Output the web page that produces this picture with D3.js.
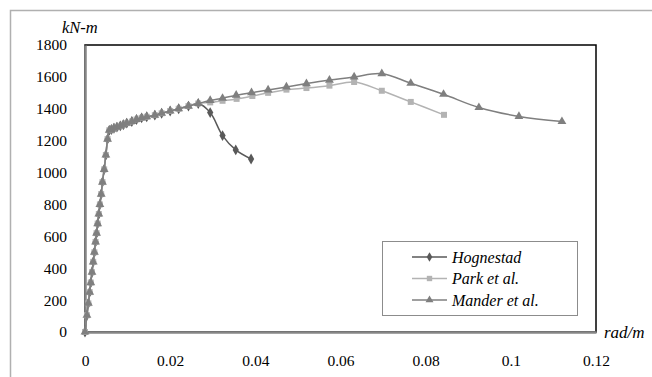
<!DOCTYPE html>
<html>
<head>
<meta charset="utf-8">
<script src="https://cdn.jsdelivr.net/npm/d3@7"></script>
<style>
  html, body { margin: 0; padding: 0; background: #fff; }
  svg text { font-family: "Liberation Serif", "Times New Roman", Times, "DejaVu Serif", serif !important; }
</style>
</head>
<body>
<svg id="chart" width="652" height="377"></svg>
<script>
// Moment–curvature curves (curvature in rad/m, moment in kN-m)
const risingX = [0, 0.00046, 0.00079, 0.0011, 0.00136, 0.00164, 0.00193, 0.0022, 0.00248, 0.00272, 0.00298, 0.00325, 0.0035, 0.0038, 0.0041, 0.0045, 0.0049, 0.0053, 0.0057,
  0.0062, 0.0068, 0.0075, 0.0083, 0.009, 0.0098, 0.011, 0.0121, 0.0133, 0.0145, 0.0164, 0.018, 0.02, 0.022, 0.0243, 0.0266];
const risingY = [0, 105, 180, 250, 310, 375, 440, 500, 565, 620, 680, 740, 800, 865, 940, 1020, 1110, 1210, 1265,
  1270, 1278, 1285, 1293, 1300, 1310, 1320, 1333, 1343, 1350, 1360, 1372, 1386, 1400, 1417, 1433];

const hognestadX = [0.0294, 0.0323, 0.0354, 0.039];
const hognestadY = [1376, 1232, 1142, 1085];

const parkX = [0.0294, 0.0323, 0.0356, 0.0393, 0.043, 0.0473, 0.052, 0.0574, 0.0632, 0.0697, 0.0765, 0.0843];
const parkY = [1440, 1450, 1462, 1480, 1500, 1520, 1530, 1545, 1568, 1513, 1443, 1362];

const manderX = [0.0294, 0.0323, 0.0355, 0.0391, 0.043, 0.0473, 0.052, 0.0574, 0.0632, 0.0697, 0.0765, 0.0842, 0.0925, 0.1019, 0.112];
const manderY = [1452, 1466, 1485, 1501, 1518, 1537, 1558, 1580, 1600, 1620, 1560, 1491, 1408, 1352, 1320];

const seriesNames = ["Hognestad", "Park et al.", "Mander et al."];
const xTicks = [0, 0.02, 0.04, 0.06, 0.08, 0.1, 0.12];
const yTicks = [0, 200, 400, 600, 800, 1000, 1200, 1400, 1600, 1800];

function pts(xs, ys) { return xs.map((x, i) => ({ x, y: ys[i] })); }

const series = [
  { name: seriesNames[0], data: pts(risingX.concat(hognestadX), risingY.concat(hognestadY)), color: "#595959", marker: d3.symbolDiamond, size: 34 },
  { name: seriesNames[1], data: pts(risingX.concat(parkX), risingY.concat(parkY)), color: "#b3b3b3", marker: d3.symbolSquare, size: 36 },
  { name: seriesNames[2], data: pts(risingX.concat(manderX), risingY.concat(manderY)), color: "#7f7f7f", marker: d3.symbolTriangle, size: 34 }
];

const svg = d3.select("#chart");
const plotL = 85, plotR = 596, plotT = 45, plotB = 332;

const x = d3.scaleLinear().domain([0, 0.12]).range([plotL, plotR]);
const y = d3.scaleLinear().domain([0, 1800]).range([plotB, plotT]);

// outer chart frame
svg.append("rect")
  .attr("x", 10.5).attr("y", 10.5).attr("width", 700).attr("height", 400)
  .attr("fill", "none").attr("stroke", "#b0b0b0").attr("stroke-width", 1.5);

// plot area frame
svg.append("rect")
  .attr("x", plotL).attr("y", plotT).attr("width", plotR - plotL).attr("height", plotB - plotT)
  .attr("fill", "none").attr("stroke", "#000").attr("stroke-width", 1.5);

// axes
const xAxis = d3.axisBottom(x).tickValues(xTicks).tickSize(0).tickPadding(23)
  .tickFormat(d => d === 0 ? "0" : String(d));
const yAxis = d3.axisLeft(y).tickValues(yTicks).tickSize(0).tickPadding(18)
  .tickFormat(d3.format("d"));

const gx = svg.append("g").attr("transform", `translate(0,${plotB})`).call(xAxis);
const gy = svg.append("g").attr("transform", `translate(${plotL},0)`).call(yAxis);
[gx, gy].forEach(g => {
  g.select(".domain").attr("stroke", "#868686").attr("stroke-width", 2.5);
  g.selectAll("text").attr("font-size", 15.5).attr("fill", "#000");
});

// axis unit labels
svg.append("text").attr("x", 62).attr("y", 33)
  .attr("font-size", 16.5).attr("font-style", "italic").text("kN-m");
svg.append("text").attr("x", 604).attr("y", 338)
  .attr("font-size", 17).attr("font-style", "italic").text("rad/m");

// curves
const line = d3.line().x(d => x(d.x)).y(d => y(d.y)).curve(d3.curveCatmullRom.alpha(0.5));

series.forEach(s => {
  const g = svg.append("g");
  g.append("path").datum(s.data)
    .attr("d", line).attr("fill", "none")
    .attr("stroke", s.color).attr("stroke-width", 1.5);
  g.selectAll("path.m").data(s.data).join("path")
    .attr("class", "m")
    .attr("transform", d => `translate(${x(d.x)},${y(d.y)})`)
    .attr("d", d3.symbol().type(s.marker).size(s.size))
    .attr("fill", s.color);
});

// legend
const lg = svg.append("g");
lg.append("rect").attr("x", 382.5).attr("y", 241.5).attr("width", 195).attr("height", 74)
  .attr("fill", "#fff").attr("stroke", "#8c8c8c").attr("stroke-width", 1);
series.forEach((s, i) => {
  const cy = 257 + i * 21.5;
  lg.append("line").attr("x1", 412).attr("x2", 447).attr("y1", cy).attr("y2", cy)
    .attr("stroke", s.color).attr("stroke-width", 1.5);
  lg.append("path").attr("transform", `translate(429.5,${cy})`)
    .attr("d", d3.symbol().type(s.marker).size(s.size * 0.8)).attr("fill", s.color);
  lg.append("text").attr("x", 452).attr("y", cy + 5.5)
    .attr("font-size", 16).attr("font-style", "italic").text(s.name);
});
</script>
</body>
</html>
